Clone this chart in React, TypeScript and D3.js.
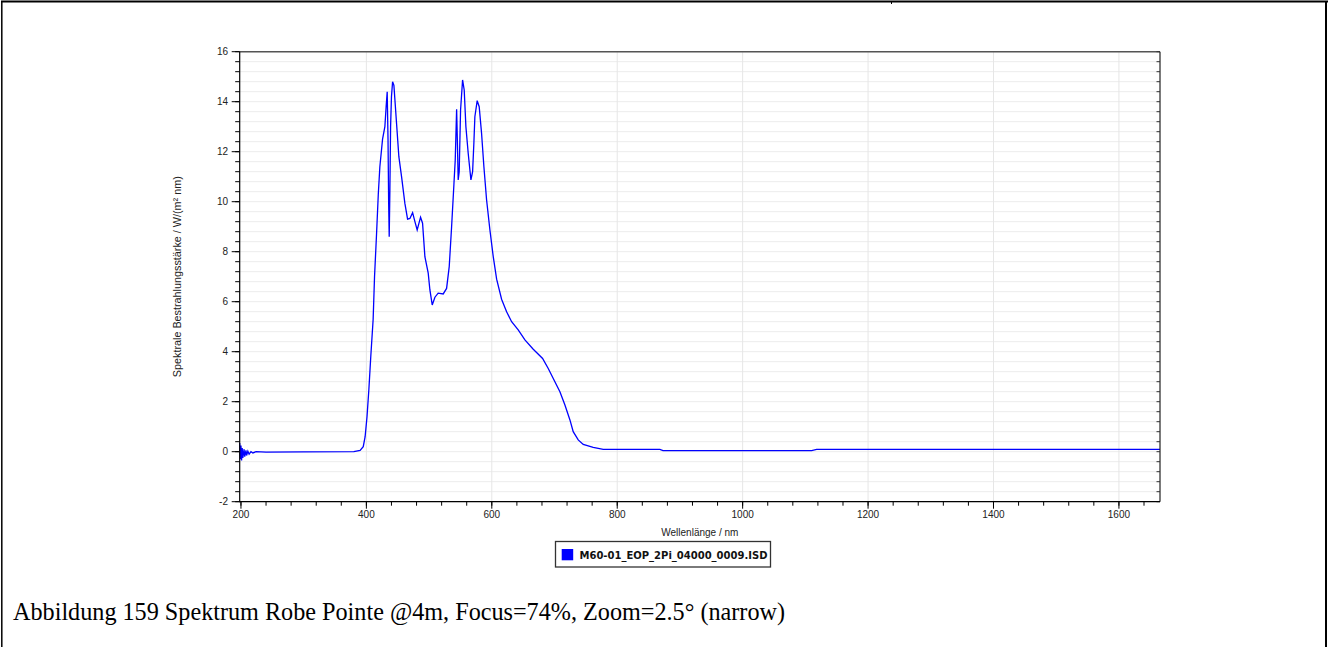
import React from "react";
import * as d3 from "d3";

const wavelengths: number[] = [
  198, 199, 200, 201, 202, 203, 205, 206, 208, 209, 211, 213, 216, 219, 224, 240, 300, 380,
  390, 395, 398, 401, 404, 407, 410.8, 413, 416.2, 419, 421.5, 425.8, 429.5, 431.5, 433.2,
  434.5, 435.5, 436.4, 437.5, 438.6, 440, 441.8, 443.9, 446, 448.2, 451.8, 456.1, 461.4,
  465.7, 469.4, 473.7, 477.4, 481, 486.4, 489.6, 493.3, 498.6, 501.3, 505, 509.3, 514.5,
  522.5, 527.9, 532.1, 535.9, 539.6, 541.7, 543.9, 545.2, 546.4, 548, 550.2, 553.4, 556,
  558.7, 562.4, 566.7, 569.4, 571.5, 573, 576.7, 579.9, 583.7, 587.4, 591.7, 597, 602.3,
  607.7, 615.6, 623.6, 631.6, 642.1, 652.8, 666.1, 681, 690, 698, 708.6, 716.6, 724.6,
  729.8, 737.8, 745.8, 761.7, 777.7, 868, 873, 1110, 1118, 1665.5,
];

const irradiance: number[] = [
  0.35, -0.3, 0.25, -0.35, 0.15, -0.25, 0.1, -0.2, 0.05, -0.15, 0.02, -0.1, 0, -0.05, 0, -0.02, -0.01, 0,
  0.05, 0.2, 0.6, 1.4, 2.5, 3.8, 5.3, 7.0, 8.7, 10.3, 11.4, 12.5, 13.0, 13.8, 14.4,
  12.5, 10.0, 8.6, 10.5, 13.0, 14.2, 14.8, 14.65, 13.9, 13.1, 11.8, 11.0, 9.93,
  9.3, 9.33, 9.56, 9.2, 8.87, 9.38, 9.14, 7.8, 7.14, 6.47, 5.87, 6.18, 6.34,
  6.31, 6.53, 7.4, 9.0, 10.7, 11.67, 13.7, 12.3, 10.87, 11.2, 13.67, 14.87, 14.47,
  13.0, 11.93, 10.87, 11.2, 12.4, 13.4, 14.04, 13.8, 12.73, 11.4, 10.07, 8.87, 7.8,
  6.9, 6.1, 5.6, 5.2, 4.87, 4.47, 4.1, 3.73, 3.33, 2.93, 2.4, 1.87, 1.27,
  0.8, 0.47, 0.29, 0.17, 0.09, 0.09, 0.04, 0.04, 0.09, 0.09,
];

const xMajorTicks: number[] = [200, 400, 600, 800, 1000, 1200, 1400, 1600];
const yMajorTicks: number[] = [-2, 0, 2, 4, 6, 8, 10, 12, 14, 16];
const seriesName = "M60-01_EOP_2Pi_04000_0009.ISD";
const xLabel = "Wellenlänge / nm";
const yLabel = "Spektrale Bestrahlungsstärke / W/(m² nm)";
const caption = "Abbildung 159 Spektrum Robe Pointe @4m, Focus=74%, Zoom=2.5° (narrow)";

export default function App() {
  const W = 1329;
  const H = 647;
  const L = 239.7, R = 1160, T = 51.7, B = 501.7;
  const x = d3.scaleLinear().domain([198, 1665.5]).range([L, R]);
  const y = d3.scaleLinear().domain([-2, 16]).range([B, T]);

  const xMinor = d3.range(200, 1665, 40);
  const yMinor = d3.range(-2, 16.001, 0.4);

  const line = d3
    .line<number>()
    .x((_, i) => x(wavelengths[i]))
    .y((d) => y(d))
    .curve(d3.curveLinear);

  const font = "'Liberation Sans', Arial, sans-serif";

  return (
    <svg
      width={W}
      height={H}
      style={{ position: "absolute", left: 0, top: 0, background: "#fff" }}
    >
      {/* page borders */}
      <line x1={1} x2={1328} y1={1.5} y2={1.5} stroke="#000" strokeWidth={2} />
      <line x1={1.8} x2={1.8} y1={1} y2={647} stroke="#000" strokeWidth={1.5} />
      <line x1={1326} x2={1326} y1={1} y2={647} stroke="#000" strokeWidth={2} />
      <line x1={891.5} x2={891.5} y1={1} y2={4} stroke="#000" strokeWidth={1} />

      {/* horizontal gridlines */}
      {yMinor.map((v, i) => (
        <line key={"hg" + i} x1={L} x2={R} y1={y(v)} y2={y(v)} stroke="#ececec" strokeWidth={1} />
      ))}
      {/* vertical gridlines */}
      {xMajorTicks.slice(1).map((v) => (
        <line key={"vg" + v} x1={x(v)} x2={x(v)} y1={T} y2={B} stroke="#e6e6e6" strokeWidth={1} />
      ))}

      {/* data line */}
      <path d={line(irradiance) || ""} fill="none" stroke="#0000ff" strokeWidth={1.3} />

      {/* frame */}
      <line x1={L} x2={R} y1={T} y2={T} stroke="#555" strokeWidth={1.5} />
      <line x1={R} x2={R} y1={T} y2={B} stroke="#222" strokeWidth={1.2} />
      {yMinor.map((v, i) => (
        <line key={"rt" + i} x1={R - 3.5} x2={R} y1={y(v)} y2={y(v)} stroke="#333" strokeWidth={1} />
      ))}
      <line x1={L} x2={L} y1={T} y2={B + 0.5} stroke="#000" strokeWidth={1.2} />
      <line x1={L} x2={R} y1={B} y2={B} stroke="#000" strokeWidth={1.2} />

      {/* y ticks */}
      {yMinor.map((v, i) => (
        <line key={"ym" + i} x1={L - 4.5} x2={L} y1={y(v)} y2={y(v)} stroke="#000" strokeWidth={1} />
      ))}
      {yMajorTicks.map((v) => (
        <g key={"yM" + v}>
          <line x1={L - 8} x2={L} y1={y(v)} y2={y(v)} stroke="#000" strokeWidth={1} />
          <text x={228} y={y(v)} dy="0.35em" textAnchor="end" fontFamily={font} fontSize={10} fill="#222">
            {v}
          </text>
        </g>
      ))}

      {/* x ticks */}
      {xMinor.map((v) => (
        <line key={"xm" + v} x1={x(v)} x2={x(v)} y1={B} y2={B + 4} stroke="#000" strokeWidth={1} />
      ))}
      {xMajorTicks.map((v) => (
        <g key={"xM" + v}>
          <line x1={x(v)} x2={x(v)} y1={B} y2={B + 7} stroke="#000" strokeWidth={1} />
          <text x={x(v)} y={518} textAnchor="middle" fontFamily={font} fontSize={10} fill="#222">
            {v}
          </text>
        </g>
      ))}

      {/* axis labels */}
      <text x={(L + R) / 2} y={535.5} textAnchor="middle" fontFamily={font} fontSize={10} fill="#222">
        {xLabel}
      </text>
      <text
        transform={`translate(180.5, ${(T + B) / 2}) rotate(-90)`}
        textAnchor="middle"
        fontFamily={font}
        fontSize={10.8}
        fill="#222"
      >
        {yLabel}
      </text>

      {/* legend */}
      <rect x={555.5} y={541.5} width={215} height={25.5} fill="#fff" stroke="#333" strokeWidth={1.3} />
      <rect x={561.7} y={549} width={11.5} height={11.3} fill="#0000ff" />
      <text x={579.5} y={559} fontFamily="'DejaVu Sans', Verdana, sans-serif" fontSize={10} fontWeight="bold" fill="#111">
        {seriesName}
      </text>

      {/* caption */}
      <text x={13} y={620} fontFamily="'Liberation Serif', 'Times New Roman', serif" fontSize={24.2} fill="#000">
        {caption}
      </text>
    </svg>
  );
}
